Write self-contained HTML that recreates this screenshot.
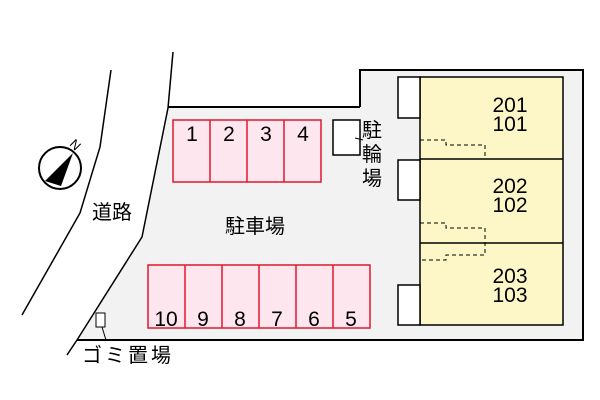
<!DOCTYPE html><html><head><style>body{margin:0;background:#fff}svg{display:block}text{font-family:"Liberation Sans","Noto Sans CJK JP",sans-serif}</style></head><body>
<svg width="600" height="400" viewBox="0 0 600 400" xmlns="http://www.w3.org/2000/svg">
<path d="M168,107 L360,107 L360,70 L583,70 L583,340 L77,340 L142,237 Z" fill="#f2f2f2" stroke="none"/>
<path d="M360,107 L360,70 L583,70 L583,340 L77,340" fill="none" stroke="#000" stroke-width="2"/>
<path d="M168,107 L360,107" stroke="#000" stroke-width="2"/>
<path d="M173,52 L168,108 L142,237 L77,340 L67,355" fill="none" stroke="#000" stroke-width="1.5"/>
<path d="M111,70 L100,147 L80,213 L22,315" fill="none" stroke="#000" stroke-width="1.5"/>
<g fill="#fde6ee" stroke="#e0182e" stroke-width="1.5">
<rect x="173" y="120" width="148" height="62"/><rect x="148" y="265" width="222" height="63"/></g>
<g stroke="#e0182e" stroke-width="1.5"><path d="M210,120V182M247,120V182M284,120V182M185,265V328M222,265V328M259,265V328M296,265V328M333,265V328"/></g>
<g font-size="21" text-anchor="middle" fill="#000">
<text x="192" y="141">1</text><text x="229" y="141">2</text><text x="266" y="141">3</text><text x="303" y="141">4</text>
<text x="166" y="326">10</text><text x="203" y="326">9</text><text x="240" y="326">8</text><text x="277" y="326">7</text><text x="314" y="326">6</text><text x="351" y="326">5</text></g>
<rect x="420" y="77" width="143" height="248" fill="#fdf7c8" stroke="#000" stroke-width="1.5"/>
<path d="M420,159H563M420,243H563" stroke="#000" stroke-width="1.5"/>
<g fill="#fff" stroke="#000" stroke-width="1.5"><rect x="398" y="77" width="22" height="41"/><rect x="398" y="160" width="22" height="40"/><rect x="398" y="285" width="22" height="40"/><rect x="333" y="120" width="27" height="35"/></g>
<g fill="none" stroke="#000" stroke-width="1" stroke-dasharray="4,3"><path d="M420,140H446V145H485V159"/><path d="M420,223H446V228H485V255H446V260H420"/></g>
<g font-size="21" text-anchor="middle" fill="#000">
<text x="510" y="112">201</text><text x="510" y="131">101</text>
<text x="510" y="193">202</text><text x="510" y="212">102</text>
<text x="510" y="283">203</text><text x="510" y="302">103</text></g>
<g font-size="20" fill="#000"><text x="362" y="137">駐</text><text x="362" y="161">輪</text><text x="362" y="185">場</text>
<text x="225" y="233">駐車場</text><text x="92" y="219">道路</text><text x="82" y="362" letter-spacing="3">ゴミ置場</text></g>
<path d="M355,138L363,140" stroke="#000"/>
<rect x="96" y="313" width="9" height="14" fill="#fff" stroke="#000"/>
<path d="M102,327L106,340" stroke="#000"/>
<circle cx="60" cy="168" r="21" fill="#fff" stroke="#000" stroke-width="2"/>
<path d="M45,181L73,153L61,186Z" fill="#000"/>
<text x="70" y="150" font-size="13" transform="rotate(45 76 146)" fill="#000">N</text>
</svg></body></html>
